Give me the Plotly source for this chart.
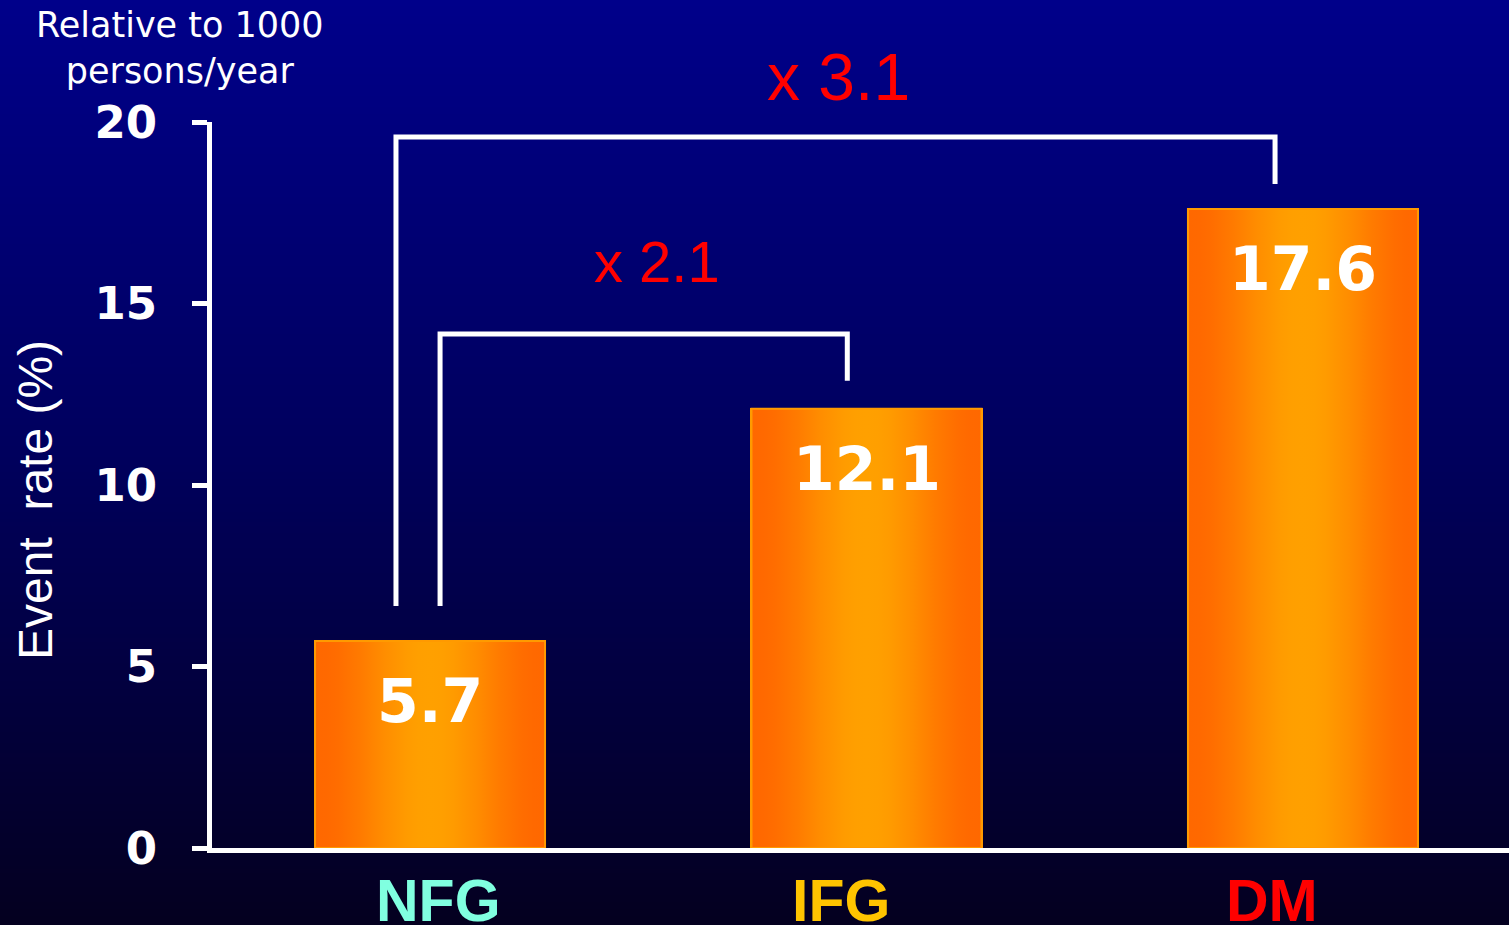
import base64
import math
import struct
import zlib

import plotly.graph_objects as go

# ---- data -------------------------------------------------------------
categories = ["NFG", "IFG", "DM"]
event_rate = [5.7, 12.1, 17.6]          # events per 1000 persons/year
category_colors = ["#80ffe0", "#ffc400", "#ff0000"]
y_ticks = [0, 5, 10, 15, 20]

# fold increase versus the NFG group: (reference index, compared index)
comparisons = [(0, 1), (0, 2)]

# ---- geometry / styling ----------------------------------------------
W, H = 1509, 925
M_L, M_R, M_T, M_B = 212, 0, 122, 77
BAR_W = 0.527
X_RANGE = [-0.4995, 2.472]
Y_RANGE = [0, 20]
PLOT_W = W - M_L - M_R
PLOT_H = H - M_T - M_B

# bracket layout per comparison: x offsets at both ends, bottom of the left
# leg, height of the crossbar, bottom of the right leg, label position
bracket_style = [
    dict(dx0=0.023, dx1=-0.044, y_low=6.67, y_top=14.16, y_end=12.87,
         lx=0.52, ly=16.15, ly_ref="y", size=58),
    dict(dx0=-0.078, dx1=-0.064, y_low=6.67, y_top=19.59, y_end=18.29,
         lx=0.935, ly=(H - M_B - 77) / PLOT_H, ly_ref="paper", size=66),
]
label_dx = [8, -26, -31]   # pixel nudge of the category captions


def gradient_png(stops, n=256):
    """A 1-pixel-wide vertical gradient PNG (top to bottom) as a data URI."""
    raw = b""
    for i in range(n):
        t = i / (n - 1)
        for (t0, c0), (t1, c1) in zip(stops[:-1], stops[1:]):
            if t0 <= t <= t1:
                f = (t - t0) / (t1 - t0)
                rgb = [round(a + (b - a) * f) for a, b in zip(c0, c1)]
                break
        raw += b"\x00" + bytes(rgb)

    def chunk(tag, data):
        c = tag + data
        return struct.pack(">I", len(data)) + c + struct.pack(">I", zlib.crc32(c) & 0xFFFFFFFF)

    png = b"\x89PNG\r\n\x1a\n"
    png += chunk(b"IHDR", struct.pack(">IIBBBBB", 1, n, 8, 2, 0, 0, 0))
    png += chunk(b"IDAT", zlib.compress(raw))
    png += chunk(b"IEND", b"")
    return "data:image/png;base64," + base64.b64encode(png).decode()


def bar_colorscale(edge=(255, 104, 0), centre=(255, 160, 0), n=21):
    """Smooth edge-to-centre-to-edge orange ramp for the bar fill."""
    scale = []
    for i in range(n):
        t = i / (n - 1)
        f = 0.5 - 0.5 * math.cos(2 * math.pi * t)
        rgb = [round(a + (b - a) * f) for a, b in zip(edge, centre)]
        scale.append([t, "rgb({},{},{})".format(*rgb)])
    return scale


xpos = list(range(len(categories)))
fig = go.Figure()

# base bars
fig.add_trace(go.Bar(
    x=xpos, y=event_rate, width=BAR_W,
    marker=dict(color="#ff8000", line=dict(color="#ff9a00", width=2)),
    hoverinfo="x+y",
))

# horizontal orange gradient laid over each bar
grad = bar_colorscale()
for xc, v in zip(xpos, event_rate):
    x0, x1 = xc - BAR_W / 2, xc + BAR_W / 2
    fig.add_trace(go.Scatter(
        x=[x0, x1, x1, x0, x0], y=[0, 0, v, v, 0],
        mode="lines", fill="toself",
        fillgradient=dict(type="horizontal", colorscale=grad),
        line=dict(color="#ff9a00", width=2),
        hoverinfo="skip", showlegend=False,
    ))

annotations = []

# value labels inside the bars
for xc, v in zip(xpos, event_rate):
    annotations.append(dict(
        x=xc, y=v, xref="x", yref="y", text=f"{v:.1f}",
        showarrow=False, yanchor="middle", yshift=-60,
        font=dict(family="DejaVu Sans", size=60, color="white", weight="bold"),
    ))

# category captions under the axis
for xc, cat, col, dx in zip(xpos, categories, category_colors, label_dx):
    annotations.append(dict(
        x=xc, y=0, xref="x", yref="y", text=cat, showarrow=False,
        yanchor="top", yshift=-18, xshift=dx,
        font=dict(family="Liberation Sans", size=59, color=col, weight="bold"),
    ))

# comparison brackets with fold-change labels
shapes = []
for (i0, i1), st in zip(comparisons, bracket_style):
    xa = xpos[i0] + st["dx0"]
    xb = xpos[i1] + st["dx1"]
    shapes.append(dict(
        type="path", xref="x", yref="y",
        path=(f"M {xa},{st['y_low']} L {xa},{st['y_top']} "
              f"L {xb},{st['y_top']} L {xb},{st['y_end']}"),
        line=dict(color="white", width=5),
    ))
    ratio = event_rate[i1] / event_rate[i0]
    annotations.append(dict(
        x=st["lx"], y=st["ly"], xref="x", yref=st["ly_ref"],
        xanchor="center", yanchor="middle",
        text=f"x {ratio:.1f}", showarrow=False,
        font=dict(family="Liberation Sans", size=st["size"], color="#ff0000"),
    ))

# axis title and unit note
annotations.append(dict(
    x=0, y=(H - M_B - 500) / PLOT_H, xref="paper", yref="paper",
    xanchor="center", yanchor="middle",
    xshift=35 - M_L, text="Event  rate (%)", textangle=-90, showarrow=False,
    font=dict(family="Liberation Sans", size=48, color="white"),
))
annotations.append(dict(
    x=0, y=(H - M_B - 48) / PLOT_H, xref="paper", yref="paper",
    xanchor="center", yanchor="middle",
    xshift=180 - M_L, text="Relative to 1000<br>persons/year", showarrow=False,
    align="center",
    font=dict(family="DejaVu Sans", size=35, color="white"),
))

fig.update_layout(
    width=W, height=H,
    margin=dict(l=M_L, r=M_R, t=M_T, b=M_B),
    paper_bgcolor="#04001f",
    plot_bgcolor="rgba(0,0,0,0)",
    showlegend=False,
    bargap=0,
    images=[dict(
        source=gradient_png([(0.0, (0, 0, 138)), (0.5, (0, 0, 92)),
                             (1.0, (4, 0, 32))]),
        xref="paper", yref="paper",
        x=-M_L / PLOT_W, y=1 + M_T / PLOT_H,
        sizex=W / PLOT_W, sizey=H / PLOT_H,
        xanchor="left", yanchor="top",
        sizing="stretch", layer="below",
    )],
    xaxis=dict(
        range=X_RANGE, showgrid=False, zeroline=False,
        showline=True, linecolor="white", linewidth=5,
        showticklabels=False, ticks="",
    ),
    yaxis=dict(
        range=Y_RANGE, tickvals=y_ticks, showgrid=False, zeroline=False,
        showline=True, linecolor="white", linewidth=5,
        ticks="outside", ticklen=15, tickwidth=5, tickcolor="white",
        ticklabelstandoff=26,
        tickfont=dict(family="DejaVu Sans", size=45, color="white", weight="bold"),
    ),
    shapes=shapes,
    annotations=annotations,
)

fig.write_html("out.html")
